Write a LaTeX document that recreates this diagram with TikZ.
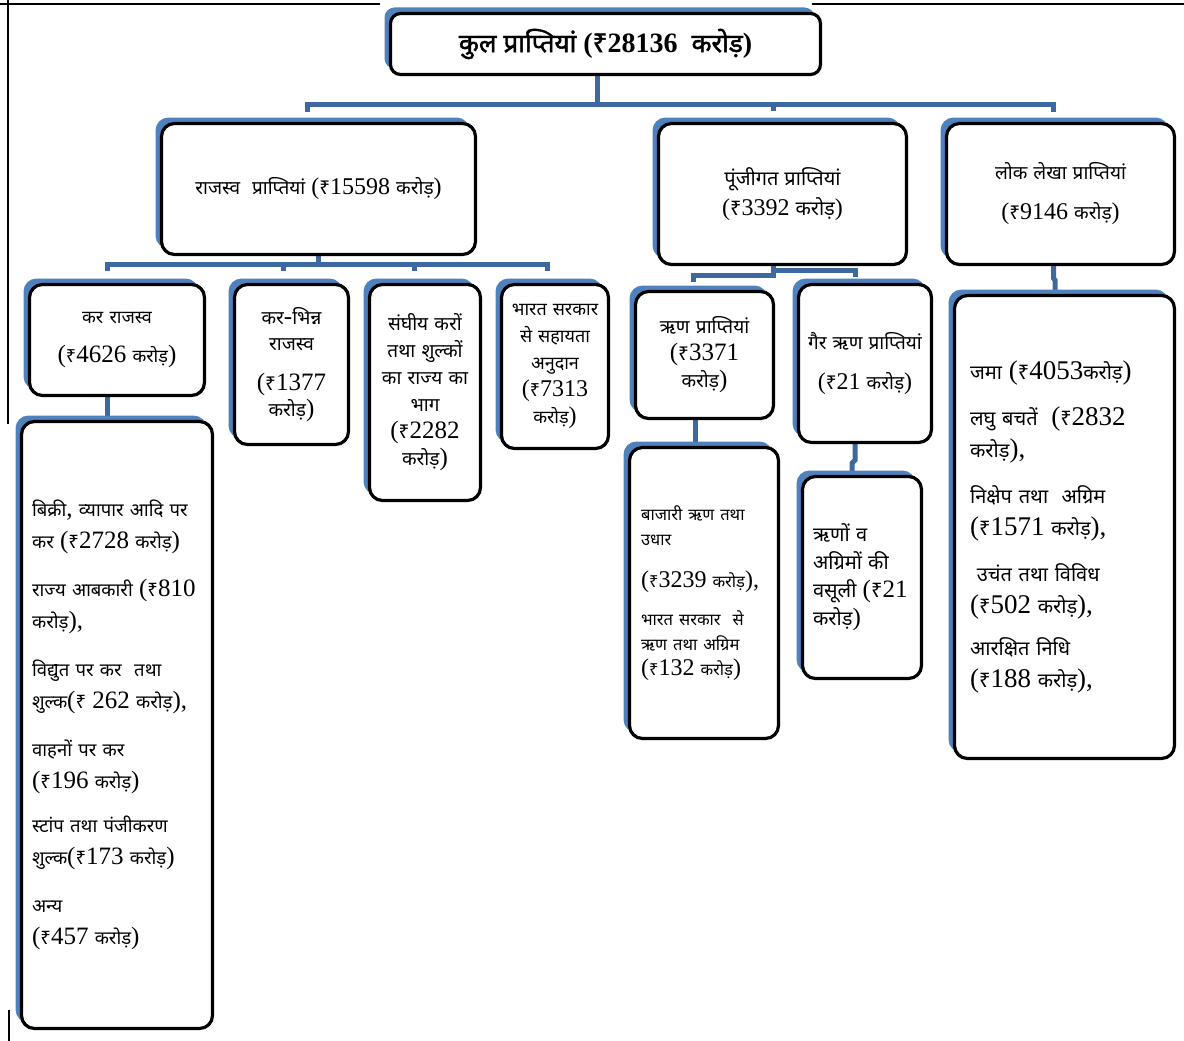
\documentclass[tikz,border=0pt]{standalone}
\usepackage{fontspec}
\setmainfont{Liberation Serif}
\newfontfamily\devfamR[Script=Devanagari]{Noto Sans}
\newfontfamily\devfamB[Script=Devanagari,FakeBold=1.8]{Noto Sans}
\let\devfam\devfamR
\def\latsz{22}
\def\devsz{17}
\newcommand\curdev{\devfam\fontsize{\devsz}{\the\baselineskip}\selectfont}
\newcommand\curlat{\rmfamily\fontsize{\latsz}{\the\baselineskip}\selectfont}
\newcommand\setf[3]{\def\latsz{#1}\def\devsz{#2}\fontsize{#1}{#3}\selectfont}
\XeTeXinterchartokenstate=1
\newXeTeXintercharclass\devcls
\newcount\mycnt
\mycnt="0900
\loop\ifnum\mycnt<"0980 \XeTeXcharclass\mycnt=\devcls \advance\mycnt by 1 \repeat
\XeTeXcharclass"20B9=\devcls
\XeTeXcharclass"200C=\devcls
\XeTeXcharclass"200D=\devcls
\XeTeXinterchartoks 0 \devcls = {\curdev}
\XeTeXinterchartoks 4095 \devcls = {\curdev}
\XeTeXinterchartoks \devcls 0 = {\curlat}
\XeTeXinterchartoks \devcls 4095 = {\curlat}
\usetikzlibrary{shadows,calc}
\definecolor{shblue}{RGB}{79,129,189}
\definecolor{cblue}{RGB}{62,104,160}
\pgfdeclarelayer{background}
\pgfsetlayers{background,main}
\begin{document}
\begin{tikzpicture}[x=1pt,y=-1pt,
  box/.style={draw=black, line width=3.2pt, fill=white, rounded corners=13pt,
    general shadow={fill=shblue, shadow xshift=-6pt, shadow yshift=6pt},
    inner sep=1pt, align=center},
  conn/.style={draw=cblue, line width=5pt},
  frameline/.style={draw=black, line width=2pt},
  lst/.style={align=left, inner sep=0pt, anchor=west}]
\useasboundingbox (0,0) rectangle (1184,1041);

% level 0
\node[box, minimum width=430pt, minimum height=61pt, rounded corners=10pt,
  font=\bfseries\let\devfam\devfamB\setf{28}{26}{32}] (top) at (605.5,44)
  {कुल प्राप्तियां (₹28136~~करोड़)};

% level 1
\node[box, minimum width=314pt, minimum height=131pt, font=\setf{24}{19}{28}] (rev) at (318.5,189)
  {राजस्व~~प्राप्तियां (₹15598 करोड़)};
\node[box, minimum width=248pt, minimum height=141pt, font=\setf{24}{20}{30}] (cap) at (782.5,194)
  {पूंजीगत प्राप्तियां\\(₹3392 करोड़)};
\node[box, minimum width=228pt, minimum height=141pt, font=\setf{24}{19}{30}] (lok) at (1060.5,194)
  {लोक लेखा प्राप्तियां\\[10pt](₹9146 करोड़)};

% level 2 (revenue)
\node[box, minimum width=175pt, minimum height=111pt, font=\setf{25}{18}{28}] (kar) at (117,340)
  {कर राजस्व\\[11pt](₹4626 करोड़)};
\node[box, minimum width=114pt, minimum height=160pt, font=\setf{25}{19}{26}] (karbh) at (291.5,364.5)
  {कर-भिन्न\\राजस्व\\[14pt](₹1377\\करोड़)};
\node[box, minimum width=111pt, minimum height=216pt, font=\setf{25}{19}{27}] (sangh) at (425,392.5)
  {संघीय करों\\तथा शुल्कों\\का राज्य का\\भाग\\(₹2282\\करोड़)};
\node[box, minimum width=107pt, minimum height=164pt, font=\setf{24}{18}{27}] (bharat) at (555,366.5)
  {भारत सरकार\\से सहायता\\अनुदान\\(₹7313\\करोड़)};

% level 2 (capital)
\node[box, minimum width=138pt, minimum height=127pt, font=\setf{25}{19}{27}] (rin) at (704.5,355)
  {ऋण प्राप्तियां\\(₹3371\\करोड़)};
\node[box, minimum width=133pt, minimum height=158pt, font=\setf{24}{19}{28}] (gair) at (865,363.5)
  {गैर ऋण प्राप्तियां\\[12pt](₹21 करोड़)};

% list boxes
\node[box, minimum width=191pt, minimum height=607pt] (karL) at (117,725) {};
\node[lst, font=\setf{25}{18.5}{32}] (karT) at ($(karL.west)+(12,0)$)
  {बिक्री, व्यापार आदि पर\\कर (₹2728 करोड़)\\[16pt]
   राज्य आबकारी (₹810\\करोड़),\\[16pt]
   विद्युत पर कर~ तथा\\शुल्क(₹ 262 करोड़),\\[16pt]
   वाहनों पर कर\\(₹196 करोड़)\\[12pt]
   स्टांप तथा पंजीकरण\\शुल्क(₹173 करोड़)\\[16pt]
   अन्य\\(₹457 करोड़)};

\node[box, minimum width=149pt, minimum height=291pt] (baz) at (704,593) {};
\node[lst, font=\setf{24}{16.5}{25}] (bazT) at ($(baz.west)+(13,0)$)
  {बाजारी ऋण तथा\\उधार\\[17pt](₹3239 करोड़),\\[13pt]
   भारत सरकार~ से\\ऋण तथा अग्रिम\\(₹132 करोड़)};

\node[box, minimum width=119pt, minimum height=202pt] (vas) at (862,577.5) {};
\node[lst, font=\setf{25}{20}{28}] (vasT) at ($(vas.west)+(12,0)$)
  {ऋणों व\\अग्रिमों की\\वसूली (₹21\\करोड़)};

\node[box, minimum width=220pt, minimum height=463pt] (lokL) at (1064.5,527) {};
\node[lst, font=\setf{27}{20}{32}] (lokT) at ($(lokL.west)+(17,0)$)
  {जमा (₹4053करोड़)\\[14pt]
   लघु बचतें~ (₹2832\\करोड़),\\[14pt]
   निक्षेप तथा~ अग्रिम\\(₹1571 करोड़),\\[14pt]
   ~उचंत तथा विविध\\(₹502 करोड़),\\[10pt]
   आरक्षित निधि\\(₹188 करोड़),};

\begin{pgfonlayer}{background}
  % frame
  \draw[frameline] (0,4) -- (380,4);
  \draw[frameline] (812,4) -- (1184,4);
  \draw[frameline] (8,0) -- (8,424);
  \draw[frameline] (9,1010) -- (9,1041);
  % top -> level 1
  \draw[conn] ([xshift=-8pt]top.south) -- ++(0,29);
  \draw[conn] ($(rev.north)+(-11.5,-10)$) -- ++(0,-7) -| ($(lok.north)+(-7.5,-10)$);
  \draw[conn] ($(cap.north)+(-9.5,-17)$) -- ++(0,6);
  % revenue -> children
  \draw[conn] (rev.south) -- ++(0,9);
  \draw[conn] ($(kar.north)+(-10,-12)$) -- ++(0,-6) -| ($(bharat.north)+(-8,-12)$);
  \draw[conn] ($(karbh.north)+(-8.5,-18)$) -- ++(0,6);
  \draw[conn] ($(sangh.north)+(-11,-18)$) -- ++(0,6);
  % capital -> children
  \draw[conn] ([xshift=-9pt]cap.south) -- ++(0,9) -| ($(rin.north)+(-11.5,-8)$);
  \draw[conn] ([xshift=-9pt,yshift=-4pt]cap.south) -| ($(gair.north)+(-10,-6)$);
  % public account -> list
  \draw[conn] ([xshift=-7pt]lok.south) -- ++(0,12) -- ++(1.5,2) -- ([xshift=-9.5pt]lokL.north);
  % level 2 -> lists
  \draw[conn] ([xshift=-10pt]kar.south) -- ([xshift=-10pt]karL.north);
  \draw[conn] ([xshift=-9.5pt]rin.south) -- ([xshift=-9pt]baz.north);
  \draw[conn] ([xshift=-10pt]gair.south) -- ++(0,16) -- ++(-3,3) -- ([xshift=-10pt]vas.north);
\end{pgfonlayer}
\end{tikzpicture}
\end{document}
